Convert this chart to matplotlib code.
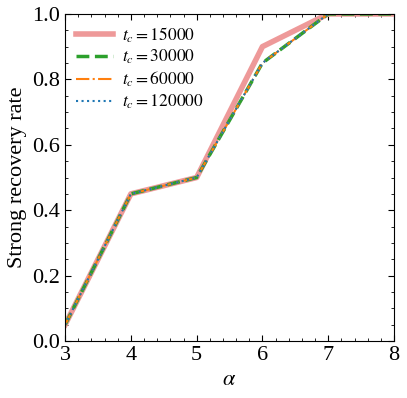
import numpy as np
import matplotlib.pyplot as plt
from matplotlib.ticker import AutoMinorLocator, MultipleLocator

plt.rcParams['font.family'] = 'Liberation Serif'
plt.rcParams['mathtext.fontset'] = 'stix'
plt.rcParams['font.size'] = 16

# data
alpha = [3, 4, 5, 6, 7, 8]
rate_15000 = [0.05, 0.45, 0.5, 0.9, 1.0, 1.0]
rate_30000 = [0.05, 0.45, 0.5, 0.85, 1.0, 1.0]
rate_60000 = [0.05, 0.45, 0.5, 0.85, 1.0, 1.0]
rate_120000 = [0.05, 0.45, 0.5, 0.85, 1.0, 1.0]

fig = plt.figure(figsize=(4.07, 3.98), dpi=100)
ax = fig.add_axes([0.16, 0.143, 0.808, 0.822])

ax.plot(alpha, rate_15000, c='#ee9999', lw=4, label=r'$t_c = 15000$')
ax.plot(alpha, rate_30000, c='tab:green', lw=2.5, ls='--', label=r'$t_c = 30000$')
ax.plot(alpha, rate_60000, c='tab:orange', lw=1.5, ls='-.', label=r'$t_c = 60000$')
ax.plot(alpha, rate_120000, c='tab:blue', lw=1.5, ls=':', label=r'$t_c = 120000$')

ax.set_xlim(3, 8)
ax.set_ylim(0, 1)
ax.set_xlabel(r'$\alpha$')
ax.set_ylabel('Strong recovery rate')
ax.xaxis.set_major_locator(MultipleLocator(1))
ax.xaxis.set_minor_locator(AutoMinorLocator(5))
ax.yaxis.set_major_locator(MultipleLocator(0.2))
ax.yaxis.set_minor_locator(AutoMinorLocator(4))
ax.tick_params(which='both', direction='in', top=True, right=True)
ax.tick_params(which='major', length=4)
ax.tick_params(which='minor', length=2)

ax.legend(frameon=False, fontsize=12.5, handlelength=2.1, handletextpad=0.55,
          labelspacing=0.2, loc='upper left', borderaxespad=0.25)

plt.savefig('out.png')
